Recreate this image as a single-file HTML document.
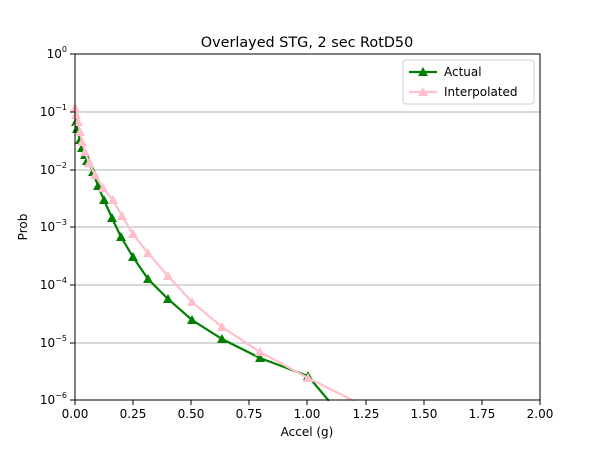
<!DOCTYPE html>
<html><head><meta charset="utf-8"><style>body{margin:0;background:#fff}svg{display:block;font-family:"DejaVu Sans","Liberation Sans",sans-serif}</style></head><body>
<svg width="600" height="450" viewBox="0 0 600 450">
<defs>
<marker id="g" viewBox="-6 -6 12 12" markerWidth="12" markerHeight="12" refX="0" refY="0" markerUnits="userSpaceOnUse"><path d="M0,-5 L5,4 L-5,4 Z" fill="green"/></marker>
<marker id="p" viewBox="-6 -6 12 12" markerWidth="12" markerHeight="12" refX="0" refY="0" markerUnits="userSpaceOnUse"><path d="M0,-5 L5,4 L-5,4 Z" fill="pink"/></marker>
</defs>
<g stroke="#b0b0b0" stroke-width="1">
<line x1="75" x2="540" y1="112" y2="112"/><line x1="75" x2="540" y1="170" y2="170"/><line x1="75" x2="540" y1="227" y2="227"/><line x1="75" x2="540" y1="285" y2="285"/><line x1="75" x2="540" y1="343" y2="343"/>
</g>
<polyline fill="none" stroke="green" stroke-width="2.2" marker-start="url(#g)" marker-mid="url(#g)" points="76,122 77,129 80,140 82,148 85,155 87,161 89,163 93,172 98,186 104,200 112,218 121,237 133,257 148,279 168,299 192,320 222,339 260,358 308,376 329,401"/>
<polyline fill="none" stroke="pink" stroke-width="2.2" marker-start="url(#p)" marker-mid="url(#p)" points="75,108 76,115 78,122 80,132 82,142 85,152 89,163 95,175 103,188 113,200 122,216 133,234 148,253 168,276 192,302 222,327 260,352 308,378 354,401"/>
<rect x="0" y="401" width="600" height="49" fill="#fff"/>
<rect x="75" y="54" width="465" height="346" fill="none" stroke="#000" stroke-width="1"/>
<g stroke="#000" stroke-width="1">
<line x1="75" x2="70" y1="54" y2="54"/><line x1="75" x2="70" y1="112" y2="112"/><line x1="75" x2="70" y1="170" y2="170"/><line x1="75" x2="70" y1="227" y2="227"/><line x1="75" x2="70" y1="285" y2="285"/><line x1="75" x2="70" y1="343" y2="343"/><line x1="75" x2="70" y1="400" y2="400"/>
<line x1="75" x2="75" y1="400" y2="405"/><line x1="133" x2="133" y1="400" y2="405"/><line x1="191" x2="191" y1="400" y2="405"/><line x1="249" x2="249" y1="400" y2="405"/><line x1="307" x2="307" y1="400" y2="405"/><line x1="366" x2="366" y1="400" y2="405"/><line x1="424" x2="424" y1="400" y2="405"/><line x1="482" x2="482" y1="400" y2="405"/><line x1="540" x2="540" y1="400" y2="405"/>
</g>
<g font-size="12" fill="#000" text-anchor="end">
<text x="67" y="58">10<tspan dy="-6" font-size="8">0</tspan></text>
<text x="67" y="116">10<tspan dy="-6" font-size="8">−1</tspan></text>
<text x="67" y="174">10<tspan dy="-6" font-size="8">−2</tspan></text>
<text x="67" y="231">10<tspan dy="-6" font-size="8">−3</tspan></text>
<text x="67" y="289">10<tspan dy="-6" font-size="8">−4</tspan></text>
<text x="67" y="347">10<tspan dy="-6" font-size="8">−5</tspan></text>
<text x="67" y="404">10<tspan dy="-6" font-size="8">−6</tspan></text>
</g>
<g font-size="12" fill="#000" text-anchor="middle">
<text x="75" y="418">0.00</text><text x="133" y="418">0.25</text><text x="191" y="418">0.50</text><text x="249" y="418">0.75</text><text x="307" y="418">1.00</text><text x="366" y="418">1.25</text><text x="424" y="418">1.50</text><text x="482" y="418">1.75</text><text x="540" y="418">2.00</text>
<text x="307" y="436">Accel (g)</text>
<text x="307" y="47" font-size="14.4">Overlayed STG, 2 sec RotD50</text>
<text transform="translate(27,227) rotate(-90)">Prob</text>
</g>
<rect x="403" y="60" width="131" height="44" fill="#fff" stroke="#ccc" rx="3"/>
<line x1="409" x2="437" y1="72" y2="72" stroke="green" stroke-width="2.2"/><path d="M423,67 L428,76 L418,76 Z" fill="green"/>
<line x1="409" x2="437" y1="92" y2="92" stroke="pink" stroke-width="2.2"/><path d="M423,87 L428,96 L418,96 Z" fill="pink"/>
<g font-size="12" fill="#000"><text x="444" y="76">Actual</text><text x="444" y="96">Interpolated</text></g>
</svg>
</body></html>
